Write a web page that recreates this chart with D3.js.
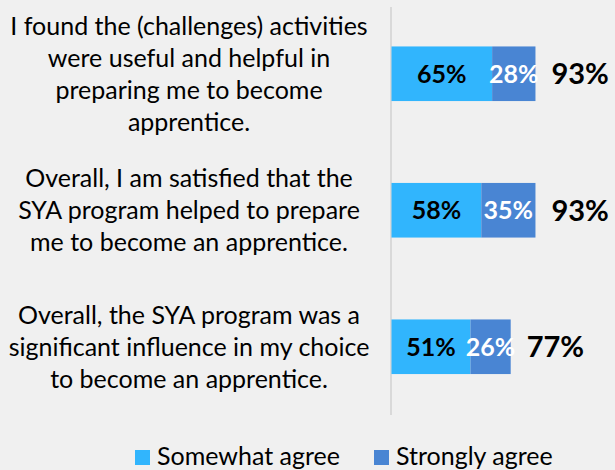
<!DOCTYPE html>
<html>
<head>
<meta charset="utf-8">
<script src="https://cdn.jsdelivr.net/npm/d3@7"></script>
<style>
  html, body { margin: 0; padding: 0; background: #f0f0f0; }
  svg { display: block; font-family: Lato, "Open Sans", sans-serif; }
</style>
</head>
<body>
<div id="chart"></div>
<script>
// survey statements (already wrapped the way the original shows them)
var categories = [
  ["I found the (challenges) activities", "were useful and helpful in", "preparing me to become", "apprentice."],
  ["Overall, I am satisfied that the", "SYA program helped to prepare", "me to become an apprentice."],
  ["Overall, the SYA program was a", "significant influence in my choice", "to become an apprentice."]
];
var somewhatAgree = [0.65, 0.58, 0.51];
var stronglyAgree = [0.28, 0.35, 0.26];
var totals = [0.93, 0.93, 0.77];
var seriesNames = ["Somewhat agree", "Strongly agree"];

var width = 615, height = 470;
var colors = ["#31b5fd", "#4985d3"];

var svg = d3.select("#chart").append("svg")
  .attr("width", width)
  .attr("height", height);

var keys = categories.map(function(d, i) { return "c" + i; });

var xScale = d3.scaleLinear().domain([0, 1]).range([391.5, 546.3]);
var yScale = d3.scaleBand().domain(keys).range([5.5, 415])
  .paddingInner(0.6).paddingOuter(0.3);

var pct = d3.format(".0%");

// vertical axis line
svg.append("line")
  .attr("x1", 391).attr("x2", 391)
  .attr("y1", 7).attr("y2", 415)
  .attr("stroke", "#d9d9d9").attr("stroke-width", 2);

var rows = svg.selectAll(".row")
  .data(keys)
  .enter().append("g")
  .attr("class", "row");

// somewhat agree segment
rows.append("rect")
  .attr("x", xScale(0))
  .attr("y", function(d) { return yScale(d); })
  .attr("height", yScale.bandwidth())
  .attr("width", function(d, i) { return xScale(somewhatAgree[i]) - xScale(0); })
  .attr("fill", colors[0]);

// strongly agree segment
rows.append("rect")
  .attr("x", function(d, i) { return xScale(somewhatAgree[i]); })
  .attr("y", function(d) { return yScale(d); })
  .attr("height", yScale.bandwidth())
  .attr("width", function(d, i) { return xScale(somewhatAgree[i] + stronglyAgree[i]) - xScale(somewhatAgree[i]); })
  .attr("fill", colors[1]);

var mid = function(d) { return yScale(d) + yScale.bandwidth() / 2; };

rows.append("text")
  .attr("x", function(d, i) { return (xScale(0) + xScale(somewhatAgree[i])) / 2; })
  .attr("y", mid)
  .attr("dy", "0.36em")
  .attr("text-anchor", "middle")
  .attr("font-size", 25).attr("font-weight", "bold").attr("fill", "#000")
  .text(function(d, i) { return pct(somewhatAgree[i]); });

rows.append("text")
  .attr("x", function(d, i) { return (xScale(somewhatAgree[i]) + xScale(somewhatAgree[i] + stronglyAgree[i])) / 2; })
  .attr("y", mid)
  .attr("dy", "0.36em")
  .attr("text-anchor", "middle")
  .attr("font-size", 25).attr("font-weight", "bold").attr("fill", "#fff")
  .text(function(d, i) { return pct(stronglyAgree[i]); });

// totals
rows.append("text")
  .attr("x", function(d, i) { return xScale(totals[i]) + 16; })
  .attr("y", mid)
  .attr("dy", "0.36em")
  .attr("font-size", 29).attr("font-weight", "bold").attr("fill", "#000")
  .text(function(d, i) { return pct(totals[i]); });

// category labels, centred on the bar
rows.each(function(d, i) {
  var lines = categories[i];
  var lh = 32;
  var t = d3.select(this).append("text")
    .attr("text-anchor", "middle")
    .attr("font-size", 25).attr("fill", "#000");
  lines.forEach(function(l, j) {
    t.append("tspan")
      .attr("x", 189)
      .attr("y", mid(d) + (j - (lines.length - 1) / 2) * lh)
      .attr("dy", "0.35em")
      .text(l);
  });
});

// legend
var legendX = [135, 374];
var legend = svg.selectAll(".legend")
  .data(seriesNames)
  .enter().append("g")
  .attr("transform", function(d, i) { return "translate(" + legendX[i] + ",450)"; });

legend.append("rect")
  .attr("width", 15).attr("height", 15)
  .attr("fill", function(d, i) { return colors[i]; });

legend.append("text")
  .attr("x", 22).attr("y", 6).attr("dy", "0.36em")
  .attr("font-size", 25).attr("fill", "#000")
  .text(function(d) { return d; });
</script>
</body>
</html>
